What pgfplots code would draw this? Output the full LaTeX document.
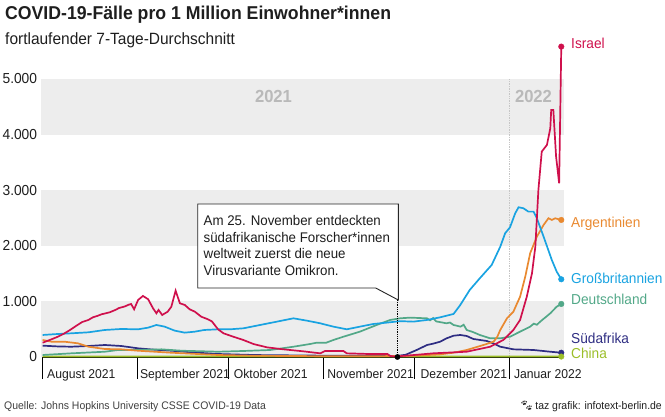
\documentclass[border=0pt]{standalone}
\usepackage{fontspec}
\setmainfont{Liberation Sans}[FakeStretch=0.95]
\newfontfamily\emoji{Noto Emoji}
\usepackage{pgfplots}
\pgfplotsset{compat=1.18}
\definecolor{cIsr}{RGB}{207,16,76}
\definecolor{cGB}{RGB}{25,163,225}
\definecolor{cArg}{RGB}{233,137,48}
\definecolor{cDE}{RGB}{82,168,136}
\definecolor{cZA}{RGB}{46,45,130}
\definecolor{cCN}{RGB}{155,190,40}
\definecolor{band}{RGB}{237,237,237}
\definecolor{yeargray}{RGB}{185,185,185}
\definecolor{txt}{RGB}{30,30,30}
\begin{document}
\begin{tikzpicture}[x=1pt,y=1pt]
\path[use as bounding box] (0,0) rectangle (665,416);
\begin{axis}[
  at={(42.6pt,59pt)}, anchor=south west,
  scale only axis, width=520.2pt, height=278pt,
  xmin=0, xmax=170.5, ymin=0, ymax=5000,
  clip=false,
  axis x line*=bottom, axis y line*=left,
  x axis line style={-, black, line width=0.9pt},
  y axis line style={draw=none},
  xtick={0,31,61,92,122,153}, xticklabels={},
  xtick style={black, line width=0.9pt},
  tick align=outside, major tick length=22pt,
  ytick={0,1000,2000,3000,4000,5000},
  ytick style={draw=none},
  scaled y ticks=false,
  /pgf/number format/assume math mode=true,
  yticklabel style={font=\fontsize{14.5}{16}\selectfont, text=txt,
     /pgf/number format/1000 sep={.}, xshift=20pt},
]
% grey bands
\fill[band] (axis cs:-0.5,0) rectangle (axis cs:171,1000);
\fill[band] (axis cs:-0.5,2000) rectangle (axis cs:171,3000);
\fill[band] (axis cs:-0.5,4000) rectangle (axis cs:171,5000);
\draw[gray!45, densely dotted, line width=0.7pt] (axis cs:153,0) -- (axis cs:153,5000);
% China
\addplot[cCN, line width=1.7pt] coordinates {
(0,10) (30,10) (60,8) (90,8) (120,8) (150,8) (170,8)};
% Suedafrika
\addplot[cZA, line width=1.7pt] coordinates {
(0,204) (5,190) (9.4,185) (15,198) (20.4,216) (25.8,198) (31.3,156) (37,130) (42.2,113) (50,80) (57.5,54) (70,35) (90,25) (110,20) (116,18) (119,40) (122.6,126) (126,216) (128,240) (130.3,275) (132.4,336) (134.7,383) (136.9,396) (139,378) (141.2,324) (145.6,288) (148,240) (150,185) (154.3,138) (160.9,126) (166.4,95) (170,77)};
% Deutschland
\addplot[cDE, line width=1.7pt] coordinates {
(0,36) (9.4,66) (20.4,95) (24.7,126) (31.3,126) (39,138) (45.5,113) (57.5,95) (65.8,108) (74.6,126) (82.2,185) (87.7,234) (89.9,258) (93,258) (95.3,306) (98.6,365) (104,456) (109.5,576) (113.9,666) (117.2,696) (120.5,708) (124,700) (126,696) (127,660) (128,700) (129,640) (132.4,606) (133.5,620) (134.7,576) (137,546) (138,580) (139,486) (141,450) (143.3,396) (146.7,336) (150,336) (153.2,365) (156.5,456) (159.8,546) (161,600) (162,580) (163.1,636) (166.4,786) (168.5,905) (170,954)};
% Argentinien
\addplot[cArg, line width=1.7pt] coordinates {
(0,306) (2.9,275) (7.2,275) (11.6,246) (15,185) (20.4,144) (25.8,138) (31.3,113) (42.2,77) (57.5,36) (70,22) (90,15) (110,15) (120,20) (130,45) (135,80) (139,126) (144.5,216) (147.8,275) (149,360) (150,486) (152.2,696) (154.3,815) (156.5,1085) (158.2,1445) (159.8,1866) (162,2165) (164.2,2375) (165.8,2495) (166.9,2465) (168,2495) (170,2465)};
% Grossbritannien
\addplot[cGB, line width=1.7pt] coordinates {
(0,396) (5,414) (9.4,426) (15,444) (20.4,486) (25.8,504) (31.3,498) (34.6,528) (37.3,576) (40,546) (43.3,474) (46.6,438) (49.9,456) (53,486) (57.5,498) (61.4,498) (65.8,516) (71.3,576) (76.8,636) (82.2,696) (86.6,654) (91,606) (95.3,546) (99.7,498) (104,546) (108.4,594) (112.8,618) (117.2,645) (121.5,636) (126,666) (130.3,714) (134.7,774) (136.9,936) (140,1206) (143.3,1416) (147.2,1656) (150,1984) (151.6,2225) (153.2,2333) (154.9,2585) (156,2693) (157.6,2675) (159.2,2615) (160.9,2615) (162,2495) (164.2,2165) (166.9,1745) (168.5,1535) (170,1398)};
% Israel
\addplot[cIsr, line width=1.7pt] coordinates {
(0,257) (3,320) (5,365) (7,420) (9,486) (11,560) (13,630) (15,666) (16.5,714) (18,740) (19.3,768) (21,790) (22,804) (24,850) (25,880) (27,910) (28,936) (29,954) (30,858) (31.3,1026) (32.9,1098) (34.6,1038) (36.2,876) (37.3,786) (38,846) (39.2,756) (41,815) (42.2,905) (43.6,1193) (45,966) (46.6,936) (48.2,858) (49.9,815) (52,725) (54.2,678) (55.5,640) (57.5,498) (59.3,426) (62.5,365) (65.8,306) (69.1,234) (73.5,174) (78.9,138) (85.5,102) (91,66) (92.6,108) (98.6,108) (99.7,66) (107,54) (113,54) (114,18) (116,5) (118,20) (120.5,30) (128,66) (139,95) (146.7,185) (151,306) (154.3,486) (156.5,666) (158.7,1085) (160.4,1506) (161.5,1984) (162.5,3004) (163.6,3694) (165.3,3814) (166.4,4114) (166.7,4443) (167.4,4443) (168.3,3604) (169.3,3125) (170,5583)};
% end markers
\addplot[only marks, mark=*, mark size=2.8pt, cIsr] coordinates {(170,5583)};
\addplot[only marks, mark=*, mark size=2.8pt, cArg] coordinates {(170,2465)};
\addplot[only marks, mark=*, mark size=2.8pt, cGB] coordinates {(170,1398)};
\addplot[only marks, mark=*, mark size=2.8pt, cDE] coordinates {(170,954)};
\addplot[only marks, mark=*, mark size=2.8pt, cZA] coordinates {(170,77)};
\addplot[only marks, mark=*, mark size=2.8pt, cCN] coordinates {(170,8)};
% annotation pointer
\draw[black, densely dotted, line width=0.8pt] (axis cs:116.3,1025) -- (axis cs:116.3,0);
\addplot[only marks, mark=*, mark size=2.6pt, black] coordinates {(116.3,0)};
\end{axis}
% annotation box
\draw[black!85, line width=0.9pt, fill=white]
  (197.7,212) -- (398.3,212) -- (398.3,116) -- (375.7,128) -- (197.7,128) -- cycle;
\begin{scope}[every node/.style={anchor=base west, inner sep=0pt, text=txt, font=\fontsize{14}{16}\selectfont}]
\node at (203.5,416-225) {Am 25. November entdeckten};
\node at (203.5,416-242) {südafrikanische Forscher*innen};
\node at (203.5,416-258.5) {weltweit zuerst die neue};
\node at (203.5,416-275) {Virusvariante Omikron.};
\end{scope}
% year labels
\node[anchor=base, inner sep=0pt, text=yeargray, font=\bfseries\fontsize{17.5}{20}\selectfont] at (273.5,416-102.7) {2021};
\node[anchor=base, inner sep=0pt, text=yeargray, font=\bfseries\fontsize{17.5}{20}\selectfont] at (533.5,416-102.7) {2022};
% month labels
\begin{scope}[every node/.style={anchor=base west, inner sep=0pt, text=txt, font=\fontsize{12.8}{15}\selectfont}]
\node at (47,38) {August 2021};
\node at (139.9,38) {September 2021};
\node at (233.7,38) {Oktober 2021};
\node at (327.1,38) {November 2021};
\node at (420.4,38) {Dezember 2021};
\node at (513.8,38) {Januar 2022};
\end{scope}
% series labels
\begin{scope}[every node/.style={anchor=base west, inner sep=0pt, font=\fontsize{14.4}{16}\selectfont}]
\node[text=cIsr] at (571,416-49) {Israel};
\node[text=cArg] at (571,416-227) {Argentinien};
\node[text=cGB] at (571,416-283.5) {Großbritannien};
\node[text=cDE] at (571,416-304.5) {Deutschland};
\node[text=cZA] at (571,416-343.5) {Südafrika};
\node[text=cCN] at (571,416-358.5) {China};
\end{scope}
% titles
\node[anchor=base west, inner sep=0pt, text=txt, font=\bfseries\fontsize{18.6}{22}\selectfont] at (5,416-19.5) {COVID-19-Fälle pro 1 Million Einwohner*innen};
\node[anchor=base west, inner sep=0pt, text=txt, font=\fontsize{16.3}{19}\selectfont] at (5,416-45) {fortlaufender 7-Tage-Durchschnitt};
% footer
\node[anchor=base west, inner sep=0pt, text=black!75, font=\fontsize{11}{13}\selectfont] at (4,416-409) {Quelle: Johns Hopkins University CSSE COVID-19 Data};
\node[anchor=base east, inner sep=0pt, text=txt, font=\fontsize{11}{13}\selectfont] at (662,416-409) {{\emoji 🐾}\,taz grafik: infotext-berlin.de};
\end{tikzpicture}
\end{document}
